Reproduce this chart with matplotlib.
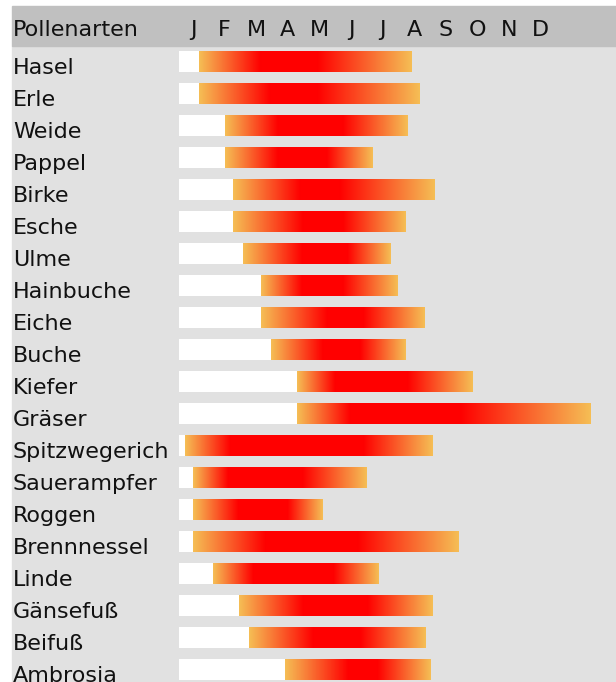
import numpy as np
import matplotlib
matplotlib.use("Agg")
import matplotlib.pyplot as plt
from matplotlib.patches import Rectangle

# ---- data (month units, 0 = start of January) ----
species = ["Hasel", "Erle", "Weide", "Pappel", "Birke", "Esche", "Ulme", "Hainbuche",
           "Eiche", "Buche", "Kiefer", "Gräser", "Spitzwegerich", "Sauerampfer",
           "Roggen", "Brennnessel", "Linde", "Gänsefuß", "Beifuß", "Ambrosia"]
season_start = [0.63, 0.63, 1.46, 1.46, 1.71, 1.71, 2.03, 2.60, 2.60, 2.92,
                3.74, 3.74, 0.19, 0.44, 0.44, 0.44, 1.08, 1.90, 2.22, 3.36]
season_end = [7.35, 7.61, 7.26, 6.15, 8.11, 7.19, 6.69, 6.94, 7.77, 7.19,
              9.29, 13.03, 8.02, 5.93, 4.53, 8.84, 6.31, 8.02, 7.80, 7.96]
peak_start = [2.57, 2.88, 3.14, 3.14, 3.84, 3.93, 3.90, 3.90, 4.69, 4.56,
              4.94, 5.42, 1.62, 1.55, 1.87, 2.73, 2.35, 3.93, 4.25, 5.36]
peak_end = [4.37, 4.37, 5.20, 4.69, 5.10, 5.20, 5.32, 5.20, 5.83, 5.74,
            7.23, 8.91, 5.83, 3.90, 3.42, 5.64, 4.88, 5.96, 5.74, 6.28]
months = ["J", "F", "M", "A", "M", "J", "J", "A", "S", "O", "N", "D"]
header_title = "Pollenarten"

# ---- figure / scales ----
W, H = 616, 682
fig = plt.figure(figsize=(W / 100, H / 100), dpi=100)
fig.patch.set_facecolor("white")

x0_px, month_px = 179.0, 31.55
row0_px, row_px = 61.5, 32.0

# background panel drawn in its own axes (figure pixel coords)
bg = fig.add_axes([0, 0, 1, 1], zorder=0)
bg.set_xlim(0, W)
bg.set_ylim(H, 0)
bg.axis("off")
bg.add_patch(Rectangle((12, 46), W - 12, H - 46, color="#e1e1e1"))
bg.add_patch(Rectangle((12, 6), W - 12, 40, color="#c0c0c0"))

ax = fig.add_axes([0, 0, 1, 1], zorder=1)
ax.set_facecolor("none")
ax.axis("off")

orange = np.array([245, 190, 85]) / 255.0
red = np.array([255, 0, 0]) / 255.0
bar_h = 21 / row_px
fs = 16

n = 400
for i, name in enumerate(species):
    s, e, ps, pe = season_start[i], season_end[i], peak_start[i], peak_end[i]
    # white lead-in bar
    ax.barh(i, s, left=0, height=bar_h, color="white", zorder=2)
    # gradient bar
    xs = np.linspace(s, e, n)
    t = np.ones(n)
    m1 = xs < ps
    t[m1] = (xs[m1] - s) / (ps - s)
    m2 = xs > pe
    t[m2] = (e - xs[m2]) / (e - pe)
    cols = orange[None, :] * (1 - t[:, None]) + red[None, :] * t[:, None]
    img = cols[None, :, :]
    ax.imshow(img, extent=(s, e, i + bar_h / 2, i - bar_h / 2), aspect="auto",
              interpolation="bilinear", zorder=3)
    # label
    ax.text((13 - x0_px) / month_px, i + 12 / row_px, name, fontsize=fs,
            family="DejaVu Sans", color="#111111", va="baseline", ha="left", zorder=4)

ax.set_xlim((0 - x0_px) / month_px, (W - x0_px) / month_px)
ax.set_ylim((H - row0_px) / row_px, (0 - row0_px) / row_px)

# header
hdr_y = (36 - row0_px) / row_px
ax.text((13 - x0_px) / month_px, hdr_y, header_title, fontsize=fs,
        family="DejaVu Sans", color="#111111", va="baseline", ha="left", zorder=4)
for k, m in enumerate(months):
    ax.text(k + 0.45, hdr_y, m, fontsize=fs, family="DejaVu Sans", color="#111111",
            va="baseline", ha="center", zorder=4)

fig.savefig("out.png", dpi=100, facecolor=fig.get_facecolor())
